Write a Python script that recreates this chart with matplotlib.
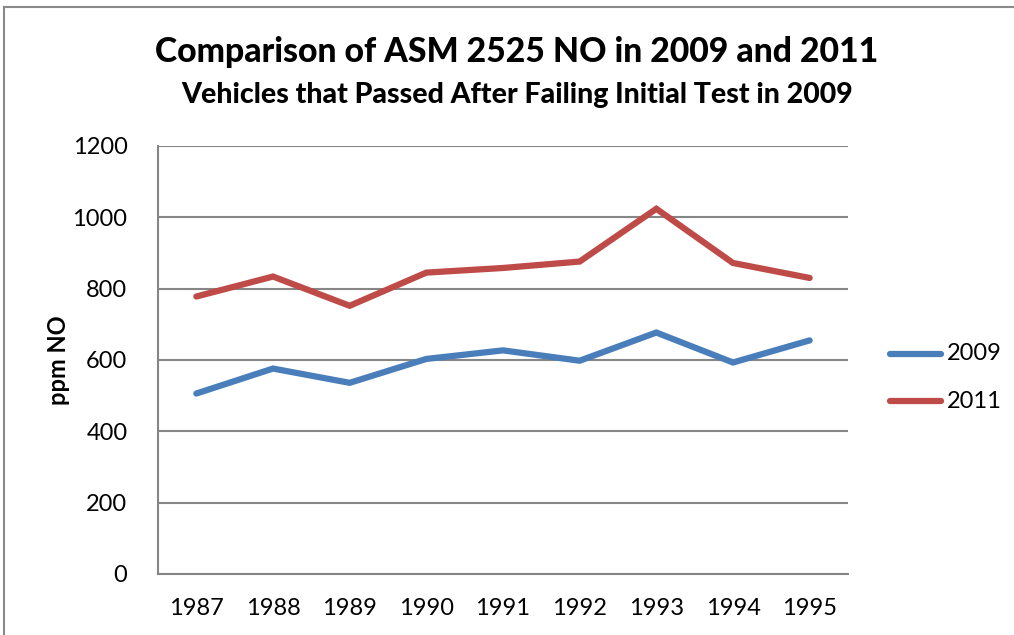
import matplotlib
matplotlib.use("Agg")
import matplotlib.pyplot as plt
from matplotlib.lines import Line2D

years = ["1987", "1988", "1989", "1990", "1991", "1992", "1993", "1994", "1995"]
no_2009 = [506, 576, 536, 603, 627, 598, 677, 593, 655]
no_2011 = [778, 834, 752, 845, 858, 876, 1024, 872, 830]
series_names = ["2009", "2011"]
y_ticks = [0, 200, 400, 600, 800, 1000, 1200]

BLUE = "#4a7ebb"
RED = "#be4b48"
GRID = "#868686"
FONT = "Lato"

W, H = 1014, 635
fig = plt.figure(figsize=(W / 100, H / 100), dpi=100)
fig.patch.set_facecolor("white")

# chart frame (top and left edges visible)
fig.add_artist(Line2D([4 / W, 1.0], [1 - 7 / H, 1 - 7 / H], color="#8a8a8a",
                      lw=1.5, transform=fig.transFigure))
fig.add_artist(Line2D([4 / W, 4 / W], [0, 1 - 7 / H], color="#8a8a8a",
                      lw=1.5, transform=fig.transFigure))

left, right, top, bottom = 158, 848, 146, 574
ax = fig.add_axes([left / W, 1 - bottom / H, (right - left) / W, (bottom - top) / H])

x = list(range(len(years)))
colors = [BLUE, RED]
for vals, name, c in zip([no_2009, no_2011], series_names, colors):
    ax.plot(x, vals, color=c, lw=4.5, solid_capstyle="round",
            solid_joinstyle="miter", label=name, zorder=3)

ax.set_xlim(-0.5, len(years) - 0.5)
ax.set_ylim(0, 1200)
ax.set_yticks(y_ticks)
ax.set_yticklabels([str(v) for v in y_ticks], fontsize=17, family=FONT)
ax.set_xticks(x)
ax.set_xticklabels(years, fontsize=17, family=FONT)
ax.tick_params(axis="y", length=0, pad=22)
ax.tick_params(axis="x", length=0, pad=17)
ax.yaxis.grid(True, color=GRID, lw=1.5)
ax.set_axisbelow(True)
for side in ["top", "right"]:
    ax.spines[side].set_visible(False)
for side in ["left", "bottom"]:
    ax.spines[side].set_color(GRID)
    ax.spines[side].set_linewidth(1.5)

ax.set_ylabel("ppm NO", fontsize=17, fontweight="bold", family=FONT)
ax.yaxis.set_label_coords((70 - left) / (right - left), 0.5)

fig.text(517 / W, 1 - 52 / H, "Comparison of ASM 2525 NO in 2009 and 2011",
         ha="center", va="center", fontsize=24.3, fontweight="black", family=FONT)
fig.text(517 / W, 1 - 95 / H, "Vehicles that Passed After Failing Initial Test in 2009",
         ha="center", va="center", fontsize=20.5, fontweight="black", family=FONT)

# legend on the right
legend_y = [354, 401]
for name, c, ly in zip(series_names, colors, legend_y):
    fig.add_artist(Line2D([890 / W, 941 / W], [1 - ly / H, 1 - ly / H], color=c,
                          lw=4.5, solid_capstyle="round", transform=fig.transFigure))
    fig.text(947 / W, 1 - ly / H, name, ha="left", va="center",
             fontsize=17, family=FONT)

fig.savefig("out.png", dpi=100, facecolor="white")
